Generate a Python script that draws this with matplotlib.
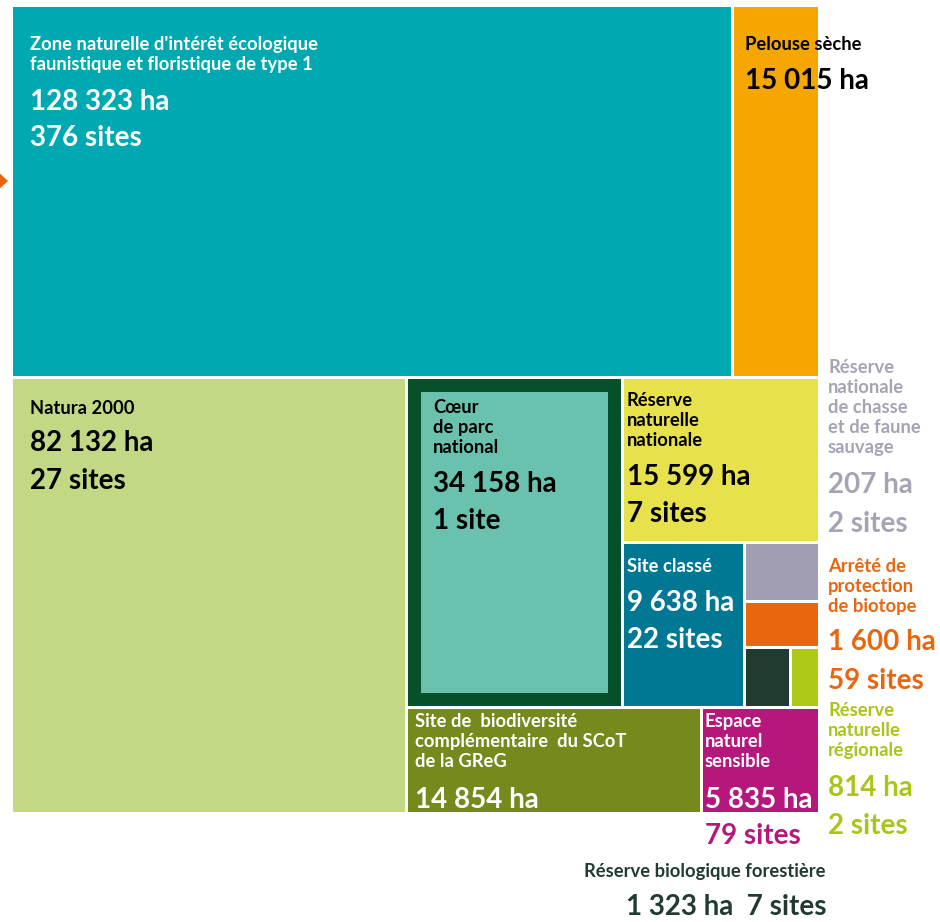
import matplotlib.pyplot as plt
from matplotlib.patches import Rectangle, Polygon

plt.rcParams["font.family"] = ["Lato", "DejaVu Sans"]

# Données : surfaces (ha) et nombre de sites par type de protection
codes = ["znieff", "pelouse", "natura", "coeur", "rnn", "classe",
         "rncfs", "apb", "rbf", "rnr", "scot", "ens"]
titres = [
    "Zone naturelle d'intérêt écologique\nfaunistique et floristique de type 1",
    "Pelouse sèche",
    "Natura 2000",
    "Cœur\nde parc\nnational",
    "Réserve\nnaturelle\nnationale",
    "Site classé",
    "Réserve\nnationale\nde chasse\net de faune\nsauvage",
    "Arrêté de\nprotection\nde biotope",
    "Réserve biologique forestière",
    "Réserve\nnaturelle\nrégionale",
    "Site de  biodiversité\ncomplémentaire  du SCoT\nde la GReG",
    "Espace\nnaturel\nsensible",
]
surfaces_ha = [128323, 15015, 82132, 34158, 15599, 9638,
               207, 1600, 1323, 814, 14854, 5835]
nb_sites = [376, None, 27, 1, 7, 22, 2, 59, 7, 2, None, 79]

couleurs = {
    "znieff": "#00a9b2", "pelouse": "#f5a600", "natura": "#c3d884",
    "coeur": "#6ac2ae", "rnn": "#e7e14b", "classe": "#007893",
    "rncfs": "#a19eb1", "apb": "#e9660f", "rbf": "#213b31",
    "rnr": "#b0c816", "scot": "#758a1c", "ens": "#b5177d",
}
bord_coeur = "#06502a"

# Structure du treemap (h : côte à côte, v : empilés)
arbre = ("v", [
    ("h", ["znieff", "pelouse"]),
    ("h", ["natura",
           ("v", [
               ("h", ["coeur",
                      ("v", ["rnn",
                             ("h", ["classe",
                                    ("v", ["rncfs", "apb",
                                           ("h", ["rbf", "rnr"])])])])]),
               ("h", ["scot", "ens"]),
           ])]),
])

ECART = 3
SEUIL = 500             # en dessous, la case est grossie pour rester visible
TAILLE_VISIBLE = 2100
poids = {c: (s if s >= SEUIL else TAILLE_VISIBLE)
         for c, s in zip(codes, surfaces_ha)}


def poids_noeud(n):
    if isinstance(n, str):
        return poids[n]
    return sum(poids_noeud(e) for e in n[1])


def decouper(n, x, y, w, h, res):
    if isinstance(n, str):
        res[n] = (x, y, w, h)
        return res
    sens, enfants = n
    total = sum(poids_noeud(e) for e in enfants)
    longueur = (w if sens == "h" else h) - ECART * (len(enfants) - 1)
    pos = x if sens == "h" else y
    for e in enfants:
        part = longueur * poids_noeud(e) / total
        if sens == "h":
            decouper(e, pos, y, part, h, res)
        else:
            decouper(e, x, pos, w, part, res)
        pos += part + ECART
    return res


rects = decouper(arbre, 13, 7, 805, 805, {})

fig = plt.figure(figsize=(9.4, 9.22), dpi=100)
ax = fig.add_axes([0, 0, 1, 1])
ax.set_xlim(0, 940)
ax.set_ylim(922, 0)
ax.axis("off")

for c in codes:
    x, y, w, h = rects[c]
    if c == "coeur":
        ax.add_patch(Rectangle((x, y), w, h, color=bord_coeur, lw=0))
        ax.add_patch(Rectangle((x + 13, y + 13), w - 26, h - 26,
                               color=couleurs[c], lw=0))
    else:
        ax.add_patch(Rectangle((x, y), w, h, color=couleurs[c], lw=0))

# petite flèche orange en bord gauche
ax.add_patch(Polygon([(-4, 170), (8, 181), (-4, 192)], closed=True,
                     color="#e9660f", lw=0))


def fmt(v):
    return f"{v:,}".replace(",", " ")


T, N = 13.2, 20  # tailles titre / chiffres


def bloc(code, x, y_titre, couleur, y_chiffres, pas_chiffres=37.5,
         sites_ligne=True, ha="left"):
    i = codes.index(code)
    lignes = titres[i].split("\n")
    for k, l in enumerate(lignes):
        ax.text(x, y_titre + 20 * k, l, fontsize=T, fontweight="bold",
                color=couleur, ha=ha, va="baseline")
    ax.text(x, y_chiffres, f"{fmt(surfaces_ha[i])} ha", fontsize=N,
            fontweight="bold", color=couleur, ha=ha, va="baseline")
    if nb_sites[i] is not None and sites_ligne:
        s = "site" if nb_sites[i] == 1 else "sites"
        ax.text(x, y_chiffres + pas_chiffres, f"{nb_sites[i]} {s}",
                fontsize=N, fontweight="bold", color=couleur, ha=ha,
                va="baseline")


bloc("znieff", 30, 50, "white", 110, 36)
bloc("pelouse", 745, 50, "black", 89)
bloc("natura", 30, 414, "black", 451, 38)
bloc("coeur", 433, 413, "black", 492, 37)
bloc("rnn", 627, 406, "black", 485, 37)
bloc("rncfs", 828, 373, "#a6a3b5", 493, 39)
bloc("classe", 627, 572, "white", 611, 37)
bloc("apb", 828, 572, "#e9660f", 650, 39)
bloc("rnr", 828, 716, "#a9c518", 796, 38)
bloc("scot", 415, 727, "white", 808)
bloc("ens", 705, 727, "white", 808, sites_ligne=False)
ax.text(705, 844, f"{nb_sites[codes.index('ens')]} sites", fontsize=N,
        fontweight="bold", color=couleurs["ens"], va="baseline")

i = codes.index("rbf")
ax.text(826, 877, titres[i], fontsize=T, fontweight="bold",
        color="#213b31", ha="right", va="baseline")
ax.text(826, 915, f"{fmt(surfaces_ha[i])} ha  {nb_sites[i]} sites",
        fontsize=N, fontweight="bold", color="#213b31", ha="right",
        va="baseline")

fig.savefig("out.png", dpi=100)
